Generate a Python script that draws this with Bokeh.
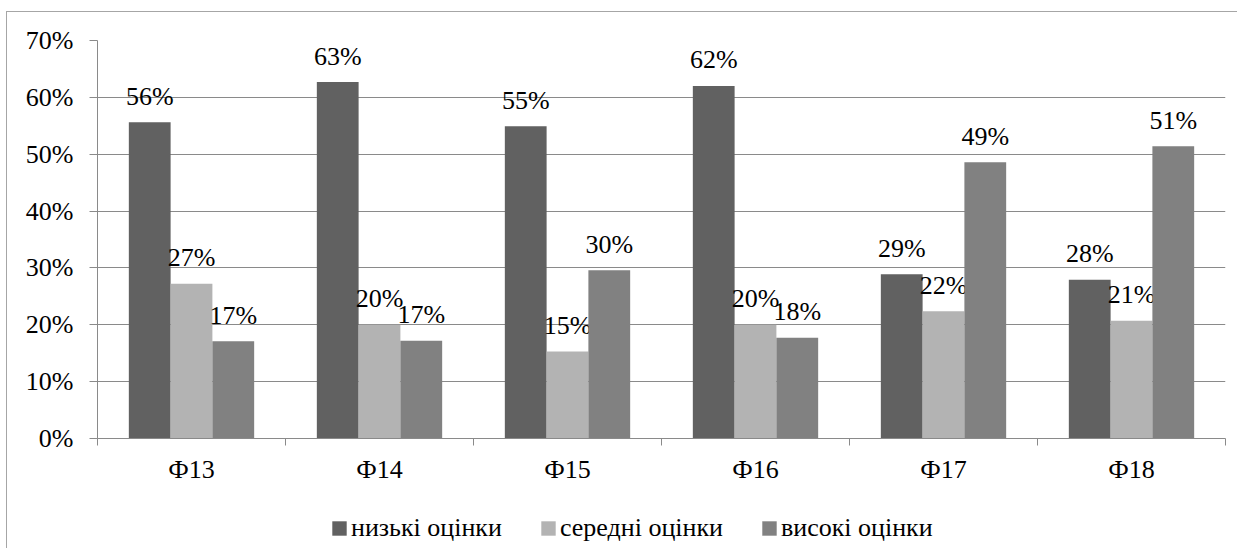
from bokeh.plotting import figure
from bokeh.models import (Range1d, FixedTicker, ColumnDataSource, Legend, LegendItem,
                          NumeralTickFormatter, Spacer)
from bokeh.layouts import column, row
from bokeh.core.properties import value
from bokeh.embed import file_html
from bokeh.resources import INLINE

categories = ["Ф13", "Ф14", "Ф15", "Ф16", "Ф17", "Ф18"]
series_names = ["низькі оцінки", "середні оцінки", "високі оцінки"]
low = [0.556, 0.627, 0.549, 0.620, 0.289, 0.279]
mid = [0.272, 0.200, 0.153, 0.200, 0.224, 0.207]
high = [0.171, 0.172, 0.296, 0.177, 0.486, 0.514]
colors = ["#616161", "#b3b3b3", "#818181"]
y_ticks = [0, 0.1, 0.2, 0.3, 0.4, 0.5, 0.6, 0.7]

FONT = "Liberation Serif"
FS = "26px"
GRAY = "#8a8a8a"
BORDER = "1px solid #a6a6a6"
W = 1231

p = figure(width=W, height=497, output_backend="svg", toolbar_location=None,
           x_range=Range1d(0, len(categories)), y_range=Range1d(0, 0.7),
           min_border_left=90, min_border_top=28, min_border_right=13, min_border_bottom=71)
p.outline_line_color = None
p.styles = {"border-left": BORDER, "border-top": BORDER}

bw = 1 / 4.5
offsets = [-bw, 0, bw]
for vals, off, col in zip([low, mid, high], offsets, colors):
    xs = [i + 0.5 + off for i in range(len(categories))]
    src = ColumnDataSource(dict(x=xs, top=vals, lab=[f"{round(v * 100)}%" for v in vals]))
    p.vbar(x="x", top="top", width=bw, source=src, fill_color=col, line_color=None)
    p.text(x="x", y="top", text="lab", source=src, text_align="center",
           text_baseline="alphabetic", y_offset=-26, text_font=value(FONT),
           text_font_size=FS, text_color="black")

# axes
p.yaxis.ticker = FixedTicker(ticks=y_ticks)
p.yaxis.formatter = NumeralTickFormatter(format="0%")
p.yaxis.major_tick_out = 8
p.yaxis.major_tick_in = 0
p.yaxis.minor_tick_line_color = None
p.yaxis.axis_line_color = GRAY
p.yaxis.major_tick_line_color = GRAY
p.yaxis.major_label_standoff = 16
p.yaxis.major_label_text_font = FONT
p.yaxis.major_label_text_font_size = FS
p.yaxis.major_label_text_color = "black"

p.xaxis.ticker = FixedTicker(ticks=[i + 0.5 for i in range(len(categories))],
                             minor_ticks=list(range(len(categories) + 1)))
p.xaxis.major_label_overrides = {i + 0.5: c for i, c in enumerate(categories)}
p.xaxis.major_tick_line_color = None
p.xaxis.major_tick_out = 0
p.xaxis.major_tick_in = 0
p.xaxis.minor_tick_out = 7
p.xaxis.minor_tick_in = 0
p.xaxis.minor_tick_line_color = GRAY
p.xaxis.axis_line_color = GRAY
p.xaxis.major_label_standoff = 9
p.xaxis.major_label_text_font = FONT
p.xaxis.major_label_text_font_size = FS
p.xaxis.major_label_text_color = "black"

p.xgrid.grid_line_color = None
p.ygrid.grid_line_color = GRAY
p.ygrid.ticker = FixedTicker(ticks=y_ticks)

# legend in a separate strip below the chart (its frame is aligned with the chart's frame)
p2 = figure(width=W, height=40, output_backend="svg", toolbar_location=None,
            x_range=Range1d(0, 1), y_range=Range1d(0, 1),
            min_border_left=0, min_border_right=0, min_border_top=0, min_border_bottom=0)
p2.axis.visible = False
p2.grid.visible = False
p2.outline_line_color = None
p2.border_fill_color = "white"
p2.background_fill_color = "white"
p2.styles = {"border-left": BORDER}
items = []
for col, name in zip(colors, series_names):
    r = p2.vbar(x=[0.5], top=[0], width=0.01, fill_color=col, line_color=None)
    items.append(LegendItem(label=name, renderers=[r]))
legend = Legend(items=items, orientation="horizontal", location=(233, 5),
                glyph_width=18, glyph_height=18, label_standoff=3, spacing=37,
                padding=0, margin=0, border_line_color=None, background_fill_alpha=0,
                label_text_font=FONT, label_text_font_size=FS, label_text_color="black")
p2.add_layout(legend, "center")

layout = column(Spacer(height=11, width=W),
                row(Spacer(width=6, height=537), column(p, p2)))
open("out.html", "w").write(file_html(layout, INLINE))
